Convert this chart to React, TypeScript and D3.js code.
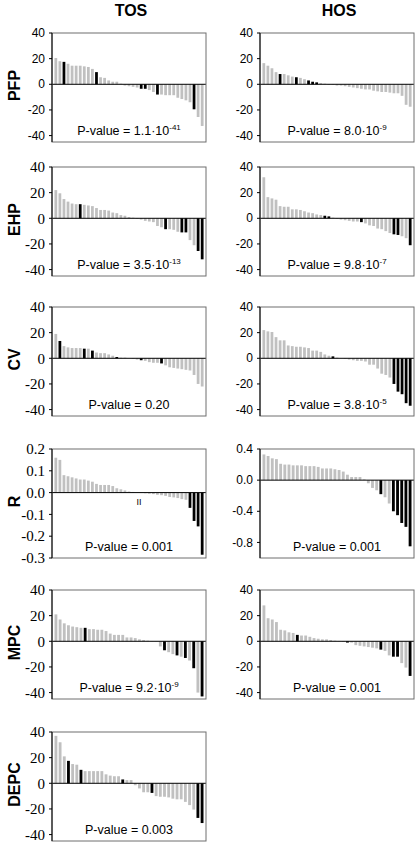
import React from "react";
import * as d3 from "d3";

// ---------- data ----------
const columns = ["TOS", "HOS"];
const rowLabels = ["PFP", "EHP", "CV", "R", "MPC", "DEPC"];

const pfpTOS = [20.5, 18, 17.5, 16, 14.5, 14.5, 14.5, 14, 13.5, 12, 9.5, 5.5, 5, 3, 2, 2, 0.5, -1, -1.5, -2, -2.5, -3.5, -3.5, -4.5, -6, -8, -8, -8.5, -8.5, -8.5, -10.5, -11.5, -12.5, -14, -19.5, -25.5, -32.5];
const pfpTOSBlack = [2, 10, 21, 22, 25, 34];
const pfpHOS = [16.5, 14.5, 12.5, 9.5, 8, 8, 7, 6, 5.5, 5, 4, 3, 2, 1.5, 1, 0.5, -0.5, -0.5, -1, -1, -1.5, -2, -2.5, -3, -3.5, -4, -4, -5, -5.5, -6, -6, -6.5, -7, -7, -9, -16, -17.5];
const pfpHOSBlack = [4, 8, 11, 12, 13];

const ehpTOS = [22, 19.5, 15, 13, 11.5, 11, 11, 10.5, 10, 9.5, 8, 6.5, 6.5, 6, 4.5, 4, 2.5, 2, 1, 0.5, -0.5, -1, -2, -2.5, -3, -6, -7, -8.5, -8.5, -9, -10.5, -11, -11, -17, -21, -25.5, -32];
const ehpTOSBlack = [6, 27, 31, 32, 35, 36];
const ehpHOS = [32, 16.5, 15.5, 14.5, 9.5, 9, 9, 7, 7, 6.5, 5.5, 4.5, 4, 3, 2.5, 2, 1.5, 0.5, -0.5, -1, -1.5, -2, -2.5, -2.5, -3, -4, -5.5, -6, -8, -8.5, -10, -11.5, -12.5, -13, -14, -15.5, -21];
const ehpHOSBlack = [15, 16, 24, 32, 33, 36];

const cvTOS = [19, 13.5, 9.5, 8.5, 8, 8, 8, 7.5, 7.5, 6, 4.5, 4, 4, 3, 2, 1, 0.5, 0.5, 0, -0.5, -1, -1.5, -2, -3, -3.5, -3.5, -4, -5.5, -7, -7.5, -8, -8.5, -9, -9.5, -13, -20, -22];
const cvTOSBlack = [1, 7, 9, 15, 21, 26];
const cvHOS = [22, 21, 20.5, 16.5, 14, 14, 10, 9.5, 9, 9, 8.5, 8, 6, 6, 5, 3, 2, 1.5, 0.5, 0, -0.5, -1, -1.5, -2, -2, -2.5, -5, -5, -8, -12, -13, -15, -20, -26, -28, -35, -37];
const cvHOSBlack = [17, 32, 33, 34, 35, 36];

const rTOS = [0.16, 0.15, 0.08, 0.075, 0.07, 0.065, 0.06, 0.06, 0.055, 0.05, 0.04, 0.035, 0.035, 0.035, 0.03, 0.02, 0.015, 0.01, 0.005, 0.003, 0, -0.002, -0.003, -0.005, -0.007, -0.01, -0.012, -0.015, -0.02, -0.022, -0.025, -0.03, -0.033, -0.07, -0.13, -0.155, -0.285];
const rTOSBlack = [33, 34, 35, 36];
const rHOS = [0.33, 0.31, 0.28, 0.27, 0.21, 0.2, 0.2, 0.19, 0.19, 0.19, 0.18, 0.18, 0.18, 0.17, 0.15, 0.15, 0.15, 0.14, 0.13, 0.11, 0.07, 0.04, 0.04, 0.04, 0.01, -0.04, -0.1, -0.13, -0.18, -0.22, -0.3, -0.4, -0.45, -0.55, -0.6, -0.85];
const rHOSBlack = [28, 31, 32, 33, 34, 35];

const mpcTOS = [21, 17, 14, 12.5, 11.5, 11, 10.5, 10.5, 9.5, 9.5, 9, 9, 8, 6, 5, 5, 5, 3, 3, 2.5, 1.5, 1, 0.5, 0.2, -0.2, -4, -7, -8.5, -10, -11, -12, -13, -15, -21, -40, -43];
const mpcTOSBlack = [7, 26, 29, 31, 33, 35];
const mpcHOS = [28, 18, 17, 15, 9, 8.5, 7, 6.5, 5, 4.5, 4.5, 3.5, 2.5, 2, 1.5, 1.5, 1, 0.5, 0.3, -0.5, -1, -1, -3, -3.5, -4, -4.5, -5, -5.5, -6.5, -7.5, -11, -12, -12, -17, -20.5, -27];
const mpcHOSBlack = [8, 20, 28, 31, 32, 35];

const depcTOS = [37, 32, 21, 17.5, 15, 14.5, 10.5, 9.5, 9.5, 9.5, 9.5, 9.5, 7, 6, 5.5, 5.5, 3, 2.5, 2.5, -1.5, -4, -7, -7, -7.5, -10, -10.5, -10.5, -11, -12, -12.5, -12.5, -14.5, -17, -20.5, -27, -31];
const depcTOSBlack = [3, 6, 16, 23, 34, 35];

const ticks40 = [40, 20, 0, -20, -40];
const ticksRTOS = [0.2, 0.1, 0, -0.1, -0.2, -0.3];
const ticksRHOS = [0.4, 0, -0.4, -0.8];

const pValues = ["1.1·10", "8.0·10", "3.5·10", "9.8·10", "0.20", "3.8·10", "0.001", "0.001", "9.2·10", "0.001", "0.003"];
const pExponents = ["-41", "-9", "-13", "-7", "", "-5", "", "", "-9", "", ""];

// ---------- layout ----------
const colX = [52, 260];
const panelW = 154;
const rowY = [33, 167, 307, 449, 590, 732];
const panelH = 109;
const SANS = "'Liberation Sans', Arial, sans-serif";
const SERIF = "'Liberation Serif', 'Times New Roman', serif";
const GRAY = "#c0c0c0";

type Panel = {
  row: number; col: number; values: number[]; black: number[];
  domain: [number, number]; ticks: number[]; dec: number; serif: boolean;
  p: string; pExp: string;
};

const panels: Panel[] = [
  { row: 0, col: 0, values: pfpTOS, black: pfpTOSBlack, domain: [-45, 40], ticks: ticks40, dec: 0, serif: false, p: pValues[0], pExp: pExponents[0] },
  { row: 0, col: 1, values: pfpHOS, black: pfpHOSBlack, domain: [-45, 40], ticks: ticks40, dec: 0, serif: false, p: pValues[1], pExp: pExponents[1] },
  { row: 1, col: 0, values: ehpTOS, black: ehpTOSBlack, domain: [-45, 40], ticks: ticks40, dec: 0, serif: true, p: pValues[2], pExp: pExponents[2] },
  { row: 1, col: 1, values: ehpHOS, black: ehpHOSBlack, domain: [-45, 40], ticks: ticks40, dec: 0, serif: false, p: pValues[3], pExp: pExponents[3] },
  { row: 2, col: 0, values: cvTOS, black: cvTOSBlack, domain: [-45, 40], ticks: ticks40, dec: 0, serif: true, p: pValues[4], pExp: pExponents[4] },
  { row: 2, col: 1, values: cvHOS, black: cvHOSBlack, domain: [-45, 40], ticks: ticks40, dec: 0, serif: false, p: pValues[5], pExp: pExponents[5] },
  { row: 3, col: 0, values: rTOS, black: rTOSBlack, domain: [-0.3, 0.2], ticks: ticksRTOS, dec: 1, serif: true, p: pValues[6], pExp: pExponents[6] },
  { row: 3, col: 1, values: rHOS, black: rHOSBlack, domain: [-1.0, 0.4], ticks: ticksRHOS, dec: 1, serif: false, p: pValues[7], pExp: pExponents[7] },
  { row: 4, col: 0, values: mpcTOS, black: mpcTOSBlack, domain: [-45, 40], ticks: ticks40, dec: 0, serif: true, p: pValues[8], pExp: pExponents[8] },
  { row: 4, col: 1, values: mpcHOS, black: mpcHOSBlack, domain: [-45, 40], ticks: ticks40, dec: 0, serif: false, p: pValues[9], pExp: pExponents[9] },
  { row: 5, col: 0, values: depcTOS, black: depcTOSBlack, domain: [-45, 40], ticks: ticks40, dec: 0, serif: true, p: pValues[10], pExp: pExponents[10] },
];

const fmt = (v: number, dec: number) => {
  const a = Math.abs(v).toFixed(dec);
  return (v < 0 ? "-" : "") + a;
};

function PanelView({ pn }: { pn: Panel }) {
  const x0 = colX[pn.col];
  const y0 = rowY[pn.row];
  const x = d3.scaleBand<number>()
    .domain(pn.values.map((_, i) => i))
    .range([x0, x0 + panelW])
    .paddingInner(0.32)
    .paddingOuter(0.6);
  const y = d3.scaleLinear().domain(pn.domain).range([y0 + panelH, y0]);
  const blackSet = new Set(pn.black);
  const font = pn.serif ? SERIF : SANS;
  const fs = pn.serif ? 15 : 12;
  return (
    <g>
      {pn.values.map((v, i) => (
        <rect key={i}
          x={x(i)!}
          y={Math.min(y(v), y(0))}
          width={x.bandwidth()}
          height={Math.abs(y(v) - y(0))}
          fill={blackSet.has(i) ? "#000" : GRAY} />
      ))}
      <line x1={x0} x2={x0 + panelW} y1={y(0)} y2={y(0)} stroke="#000" strokeWidth={1} />
      <rect x={x0} y={y0} width={panelW} height={panelH} fill="none" stroke="#6e6e6e" strokeWidth={1} />
      <line x1={x0} x2={x0} y1={y0} y2={y0 + panelH} stroke="#000" strokeWidth={1} />
      {pn.ticks.map((t) => (
        <g key={t}>
          <line x1={x0 - 3} x2={x0} y1={y(t)} y2={y(t)} stroke="#000" strokeWidth={1} />
          <text x={x0 - 7} y={y(t)} dy="0.35em" textAnchor="end" fontFamily={font} fontSize={fs} fill="#000">
            {fmt(t, pn.dec)}
          </text>
        </g>
      ))}
      <text x={x0 + panelW / 2} y={y0 + 102} textAnchor="middle" fontFamily={SANS} fontSize={12.5} fill="#000">
        {"P-value = " + pn.p}
        {pn.pExp ? <tspan dy={-5} fontSize={8}>{pn.pExp}</tspan> : null}
      </text>
    </g>
  );
}

export default function App() {
  return (
    <svg width={419} height={846} style={{ display: "block", position: "absolute", left: 0, top: 0, background: "#fff" }}>
      {columns.map((c, i) => (
        <text key={c} x={colX[i] + panelW / 2 + 2} y={16} textAnchor="middle" fontFamily={SANS} fontWeight="bold" fontSize={16} fill="#000">{c}</text>
      ))}
      {rowLabels.map((r, i) => (
        <text key={r} transform={`translate(20,${rowY[i] + panelH / 2 - 2}) rotate(-90)`} textAnchor="middle" fontFamily={SANS} fontWeight="bold" fontSize={16} fill="#000">{r}</text>
      ))}
      {panels.map((pn, i) => <PanelView key={i} pn={pn} />)}
      <text x={139} y={505} textAnchor="middle" fontFamily={SANS} fontSize={9} fill="#000">II</text>
    </svg>
  );
}
